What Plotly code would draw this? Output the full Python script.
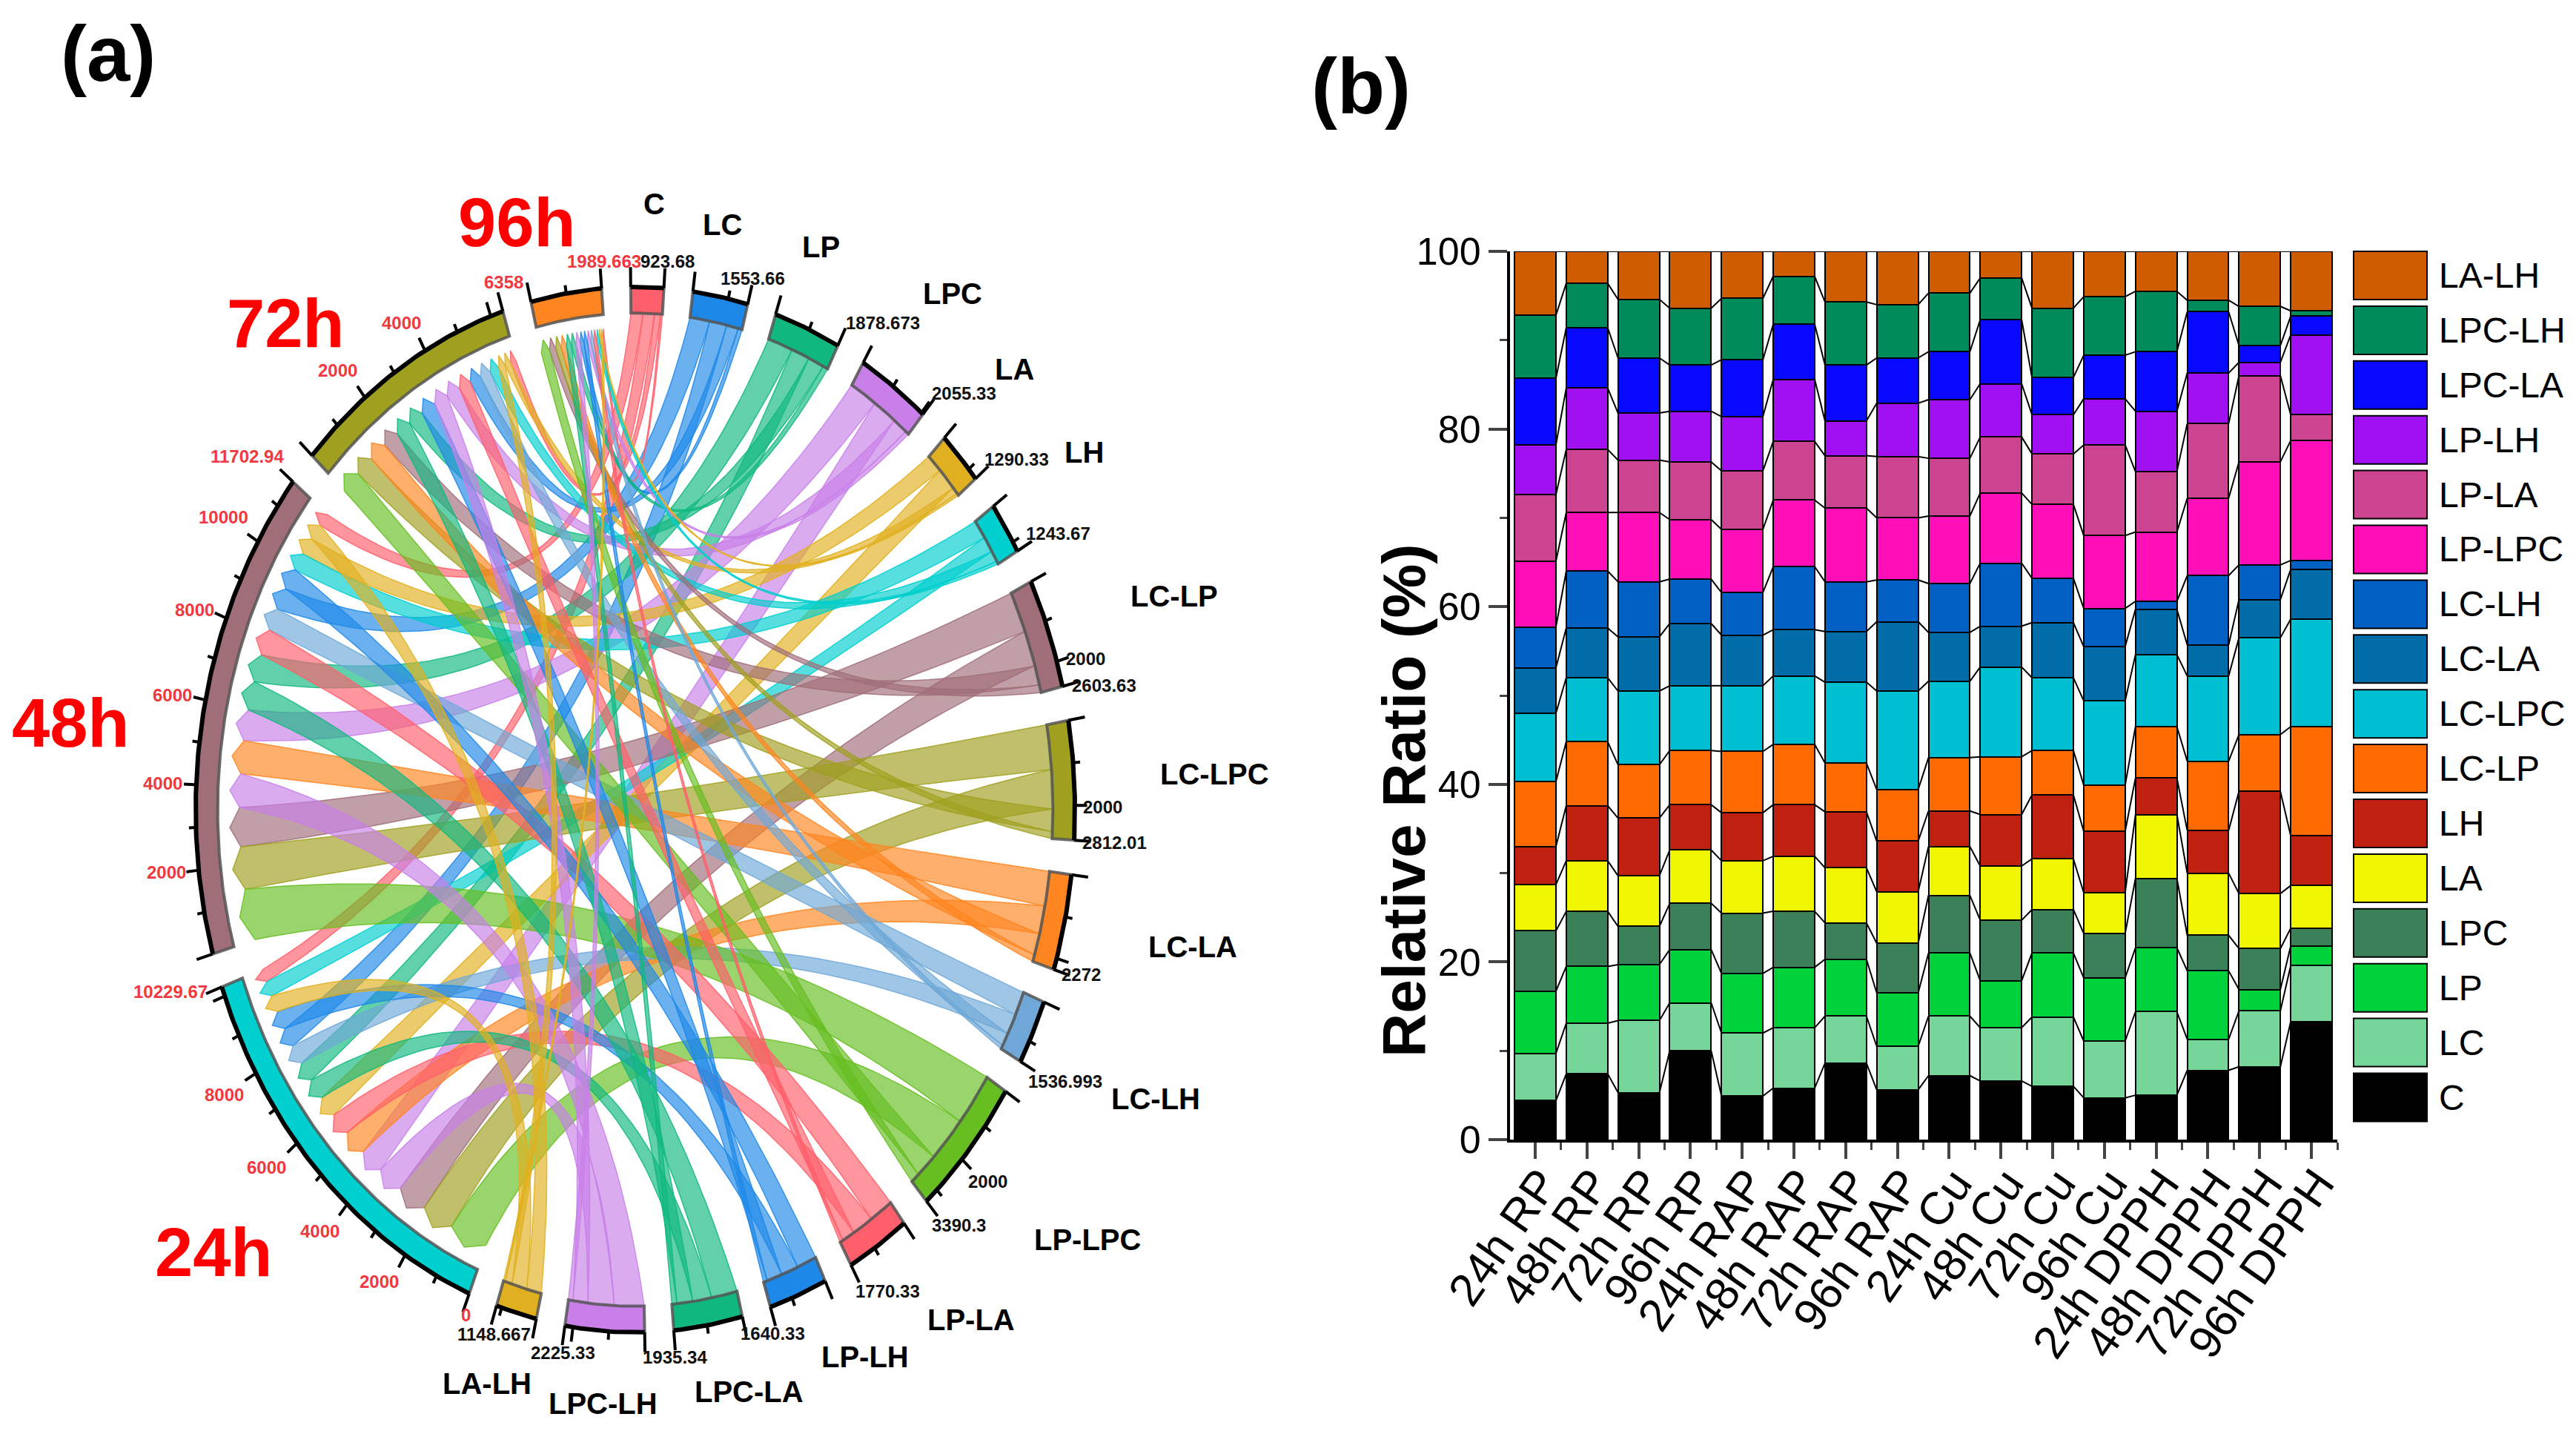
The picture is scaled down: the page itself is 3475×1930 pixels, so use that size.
import numpy as np
import plotly.graph_objects as go

W, H = 3475, 1930

# ---------- panel (b) data ----------
samples = ["24h RP", "48h RP", "72h RP", "96h RP", "24h RAP", "48h RAP", "72h RAP", "96h RAP",
           "24h Cu", "48h Cu", "72h Cu", "96h Cu", "24h DPPH", "48h DPPH", "72h DPPH", "96h DPPH"]
C = [4.4,7.4,5.3,10.0,4.9,5.8,8.6,5.6,7.2,6.6,6.0,4.7,5.0,7.8,8.2,13.3]
LC = [5.3,5.7,8.1,5.4,7.1,6.8,5.3,4.9,6.7,6.0,7.8,6.4,9.4,3.5,6.3,6.3]
LP = [7.0,6.4,6.3,6.0,6.7,6.8,6.4,6.0,7.1,5.3,7.2,7.1,7.2,7.7,2.4,2.2]
LPC = [6.8,6.2,4.3,5.2,6.8,6.3,4.1,5.6,6.5,6.8,4.9,5.0,7.8,4.0,4.6,2.0]
LA = [5.2,5.7,5.7,6.0,5.9,6.2,6.2,5.8,5.5,6.1,5.7,4.6,7.2,7.0,6.2,4.8]
LH = [4.3,6.2,6.5,5.1,5.4,5.8,6.3,5.7,4.0,5.8,7.2,6.9,4.1,4.8,11.5,5.6]
LC_LP = [7.3,7.2,6.0,6.1,6.9,6.8,5.5,5.8,6.0,6.5,5.0,5.2,5.8,7.8,6.4,12.3]
LC_LPC = [7.7,7.2,8.3,7.3,7.4,7.7,9.1,11.1,8.6,10.1,8.2,9.5,8.1,9.6,10.9,12.1]
LC_LA = [5.1,5.6,6.1,7.0,5.7,5.2,5.7,7.8,5.5,4.6,6.2,6.1,5.1,3.5,4.3,5.6]
LC_LH = [4.6,6.4,6.2,5.0,4.8,7.1,5.6,4.7,5.5,7.1,5.0,4.3,0.9,7.8,3.9,1.0]
LP_LPC = [7.4,6.6,7.8,6.7,7.1,7.5,8.3,7.0,7.6,7.9,8.3,8.2,7.8,8.7,11.6,13.5]
LP_LA = [7.5,7.1,5.9,6.5,6.6,6.6,5.9,6.9,6.5,6.3,5.7,10.2,6.8,8.4,9.7,2.9]
LP_LH = [5.6,6.9,5.3,5.7,6.1,7.0,3.9,6.0,6.6,6.0,4.4,5.2,6.8,5.7,1.5,9.0]
LPC_LA = [7.5,6.8,6.2,5.2,6.4,6.2,6.3,5.1,5.4,7.2,4.2,4.9,6.7,6.9,1.9,2.1]
LPC_LH = [7.1,5.0,6.6,6.4,6.9,5.4,7.1,6.0,6.6,4.7,7.8,6.6,6.8,1.3,4.4,0.6]
LA_LH = [7.2,3.6,5.4,6.4,5.3,2.8,5.7,6.0,4.7,3.0,6.4,5.1,4.5,5.5,6.2,6.7]

lipids = ["C", "LC", "LP", "LPC", "LA", "LH", "LC-LP", "LC-LPC", "LC-LA", "LC-LH",
          "LP-LPC", "LP-LA", "LP-LH", "LPC-LA", "LPC-LH", "LA-LH"]
bar_values = [C, LC, LP, LPC, LA, LH, LC_LP, LC_LPC, LC_LA, LC_LH, LP_LPC, LP_LA, LP_LH, LPC_LA, LPC_LH, LA_LH]
bar_colors = ["#000000", "#76D69A", "#00D23C", "#3A8058", "#F0F500", "#C0200F", "#FF6A00", "#00BFD2",
              "#006CA8", "#0060C4", "#FF0FB8", "#CC4490", "#A010F0", "#0808FF", "#008C5A", "#D05C00"]

# ---------- panel (a) data ----------
times = ["24h", "48h", "72h", "96h"]
flow_24h = [340, 510, 535, 715, 580, 400, 895, 970, 695, 520, 1170, 620, 500, 560, 775, 444.67]
flow_48h = [355, 585, 735, 810, 470, 480, 1025, 1110, 865, 595, 1340, 687.94, 575, 755, 875, 440]
flow_72h = [174.017, 343.66, 463.673, 425.33, 180.33, 283.67, 488.63, 560.01, 544, 326.993, 620.3, 372.39, 455.33, 470.34, 440.33, 208.997]
flow_96h = [54.663, 115, 145, 105, 60, 80, 195, 172, 168, 95, 260, 90, 110, 150, 135, 55]
lipid_end_labels = ["923.68", "1553.66", "1878.673", "2055.33", "1290.33", "1243.67", "2603.63", "2812.01",
                    "2272", "1536.993", "3390.3", "1770.33", "1640.33", "1935.34", "2225.33", "1148.667"]
time_end_labels = ["10229.67", "11702.94", "6358", "1989.663"]
chord_colors = ["#FF5F6B", "#1E88E8", "#10B880", "#C880E8", "#E0B020", "#00CFCF", "#A06E78", "#A0A020",
                "#FF8520", "#6FA8D8", "#66BE20", "#FF5F6B", "#1E88E8", "#10B880", "#C880E8", "#E0B020"]
time_colors = ["#00CFCF", "#A06E78", "#A0A020", "#FF8520"]


def px_x(x):
    return x / W


def px_y(y):
    return 1 - y / H


def rgba(hexc, a):
    h = hexc.lstrip("#")
    return "rgba(%d,%d,%d,%.2f)" % (int(h[:2], 16), int(h[2:4], 16), int(h[4:], 16), a)


fig = go.Figure()

# ---------- chord geometry (unit circle mapped through axes x2 / y2) ----------
flows = np.array([flow_24h, flow_48h, flow_72h, flow_96h]).T
lipid_tot = flows.sum(axis=1)
time_tot = flows.sum(axis=0)
GAP = 3.8
UNIT = (360 - 20 * GAP) / (lipid_tot.sum() + time_tot.sum())
START = -0.6


def pt(theta, r):
    t = np.radians(theta)
    return r * np.sin(t), r * np.cos(t)


def arc(a, b, r, n=None):
    n = n or max(2, int(abs(b - a) * 2) + 2)
    th = np.linspace(a, b, n)
    return pt(th, r)


sector_span = {}
ang = START
for i, n in enumerate(lipids):
    sector_span[n] = (ang, ang + lipid_tot[i] * UNIT)
    ang += lipid_tot[i] * UNIT + GAP
for i, n in enumerate(times):
    sector_span[n] = (ang, ang + time_tot[i] * UNIT)
    ang += time_tot[i] * UNIT + GAP

# positions of each link on the time sectors: largest first, clockwise
time_pos = {}
for j, tn in enumerate(times):
    a = sector_span[tn][0]
    for i in np.argsort(-flows[:, j]):
        w = flows[i, j] * UNIT
        time_pos[(i, j)] = (a, a + w)
        a += w
# positions on lipid sectors
lipid_order = [1, 0, 2, 3]
lipid_pos = {}
for i, ln in enumerate(lipids):
    a = sector_span[ln][0]
    for j in lipid_order:
        w = flows[i, j] * UNIT
        lipid_pos[(i, j)] = (a, a + w)
        a += w


def bez(a1, r1, a2, r2):
    p0 = np.array(pt(a1, r1))
    p2 = np.array(pt(a2, r2))
    d = (a2 - a1 + 180) % 360 - 180
    rc = 0.35 * (1 - abs(d) / 180)
    p1 = np.array(pt(a1 + d / 2, rc))
    t = np.linspace(0, 1, 50)[:, None]
    c = (1 - t) ** 2 * p0[None, :] + 2 * t * (1 - t) * p1[None, :] + t ** 2 * p2[None, :]
    return c[:, 0], c[:, 1]


R_L, R_T, R_TIP = 0.95, 0.90, 0.923
for j in range(4):
    for i in range(16):
        l1, l2 = lipid_pos[(i, j)]
        t1, t2 = time_pos[(i, j)]
        ax, ay = arc(l1, l2, R_L)
        b1x, b1y = bez(l2, R_L, t1, R_T)
        tipx, tipy = pt((t1 + t2) / 2, R_TIP)
        b2x, b2y = bez(t2, R_T, l1, R_L)
        xs = np.concatenate([ax, b1x, [tipx], b2x])
        ys = np.concatenate([ay, b1y, [tipy], b2y])
        fig.add_trace(go.Scatter(x=xs, y=ys, xaxis="x2", yaxis="y2", mode="lines", fill="toself",
                                 fillcolor=rgba(chord_colors[i], 0.66),
                                 line=dict(color=rgba(chord_colors[i], 0.85), width=1.5),
                                 hoverinfo="skip", showlegend=False))

# sector bands and axes
all_names = lipids + times
all_cols = chord_colors + time_colors
all_tot = list(lipid_tot) + list(time_tot)
for n, col, tot in zip(all_names, all_cols, all_tot):
    a, b = sector_span[n]
    ox, oy = arc(a, b, 1.0)
    ix, iy = arc(b, a, 0.95)
    fig.add_trace(go.Scatter(x=np.concatenate([ox, ix, ox[:1]]), y=np.concatenate([oy, iy, oy[:1]]),
                             xaxis="x2", yaxis="y2", mode="lines", fill="toself", fillcolor=col,
                             line=dict(color="rgba(85,85,85,0.85)", width=4),
                             hoverinfo="skip", showlegend=False))
    fig.add_trace(go.Scatter(x=ox, y=oy, xaxis="x2", yaxis="y2", mode="lines",
                             line=dict(color="black", width=6), hoverinfo="skip", showlegend=False))
    tx, ty = [], []
    for v in np.arange(0, tot, 1000):
        th = a + v * UNIT
        rr = 1.038 if v == 0 else (1.028 if int(v) % 2000 == 0 else 1.016)
        x0, y0 = pt(th, 1.0)
        x1, y1 = pt(th, rr)
        tx += [x0, x1, None]
        ty += [y0, y1, None]
    x0, y0 = pt(b, 1.0)
    x1, y1 = pt(b, 1.038)
    tx += [x0, x1, None]
    ty += [y0, y1, None]
    fig.add_trace(go.Scatter(x=tx, y=ty, xaxis="x2", yaxis="y2", mode="lines",
                             line=dict(color="black", width=4), hoverinfo="skip", showlegend=False))

# ---------- stacked bars with connecting lines ----------
xpos = np.arange(1, 17)
for name, vals, col in zip(lipids, bar_values, bar_colors):
    fig.add_trace(go.Bar(x=xpos, y=vals, width=0.8, name=name, marker=dict(color=col, line=dict(color="black", width=2)),
                         showlegend=False, xaxis="x", yaxis="y"))
cum = np.cumsum(np.array(bar_values), axis=0)
for row in cum:
    lx, ly = [], []
    for k in range(15):
        lx += [xpos[k] + 0.4, xpos[k + 1] - 0.4, None]
        ly += [row[k], row[k + 1], None]
    fig.add_trace(go.Scatter(x=lx, y=ly, mode="lines", line=dict(color="black", width=2),
                             hoverinfo="skip", showlegend=False, xaxis="x", yaxis="y"))

# ---------- text ----------
SANS = "Liberation Sans"
ann = []


def text(x, y, s, size, color="black", bold=False, family=SANS, angle=0, xanchor="center"):
    ann.append(dict(x=px_x(x), y=px_y(y), xref="paper", yref="paper", text=("<b>%s</b>" % s) if bold else s,
                    showarrow=False, textangle=angle, xanchor=xanchor, yanchor="middle",
                    font=dict(family=family, size=size, color=color)))


text(146, 73, "(a)", 105, bold=True)
text(1836, 116, "(b)", 105, bold=True)
text(1893, 1080, "Relative Ratio (%)", 82, bold=True, angle=-90)

for s, x, y in [("96h", 697, 300), ("72h", 385, 436), ("48h", 95, 975), ("24h", 288, 1689)]:
    text(x, y, s, 92, color="#FF0000", bold=True)

name_pos = [(882, 275), (975, 303), (1107, 333), (1285, 396), (1368, 498), (1462, 610), (1584, 804), (1638, 1044),
            (1609, 1277), (1559, 1482), (1467, 1672), (1310, 1780), (1167, 1830), (1010, 1877), (813, 1893), (657, 1866)]
for s, (x, y) in zip(lipids, name_pos):
    text(x, y, s, 40, bold=True)

LBL = 24
end_pos = [(900, 353), (1015, 376), (1191, 435), (1300, 530), (1371, 619), (1427, 719), (1489, 924), (1503, 1136),
           (1458, 1314), (1437, 1458), (1293, 1652), (1197, 1741), (1042, 1798), (910, 1830), (759, 1824), (666, 1799)]
for s, (x, y) in zip(lipid_end_labels, end_pos):
    text(x, y, s, LBL, color="#111111", bold=True)
text(1464, 888, "2000", LBL, color="#111111", bold=True)
text(1487, 1088, "2000", LBL, color="#111111", bold=True)
text(1332, 1593, "2000", LBL, color="#111111", bold=True)

RED = "#F0383F"
for s, x, y in [("0", 628, 1773), ("2000", 511, 1728), ("4000", 431, 1660), ("6000", 359, 1574), ("8000", 302, 1476),
                ("2000", 224, 1176), ("4000", 219, 1056), ("6000", 232, 937), ("8000", 262, 822), ("10000", 301, 697),
                ("2000", 456, 499), ("4000", 541, 435)]:
    text(x, y, s, LBL, color=RED, bold=True)
for s, (x, y) in zip(time_end_labels, [(230, 1337), (333, 615), (679, 380), (815, 353)]):
    text(x, y, s, LBL, color=RED, bold=True)

# legend for panel (b)
shapes = []
LEG_TOP, LEG_STEP, LEG_H = 339, 73.9, 65
for k, (s, col) in enumerate(zip(lipids[::-1], bar_colors[::-1])):
    y0 = LEG_TOP + k * LEG_STEP
    shapes.append(dict(type="rect", xref="paper", yref="paper", x0=px_x(3175), x1=px_x(3274), y0=px_y(y0), y1=px_y(y0 + LEG_H),
                       fillcolor=col, line=dict(color="black", width=2)))
    text(3288, y0 + LEG_H / 2, s, 48, xanchor="left")

fig.update_layout(
    width=W, height=H, margin=dict(l=0, r=0, t=0, b=0, autoexpand=False), paper_bgcolor="white", plot_bgcolor="rgba(0,0,0,0)",
    barmode="stack", bargap=0.2, showlegend=False, annotations=ann, shapes=shapes,
    xaxis=dict(domain=[px_x(2037), px_x(3153)], range=[0.513, 16.5], tickvals=list(xpos), ticktext=samples, automargin=False,
               tickangle=-55, tickfont=dict(family=SANS, size=62, color="black"), ticks="outside", ticklen=22, tickwidth=4,
               ticklabelstandoff=-28, ticklabelshift=8,
               showline=True, linewidth=4, linecolor="black", showgrid=False, zeroline=False, anchor="y",
               minor=dict(tickvals=[v + 0.5 for v in range(0, 17)], ticks="outside", ticklen=10, tickwidth=3, showgrid=False)),
    yaxis=dict(domain=[px_y(1537), px_y(339)], range=[0, 100], tickvals=[0, 20, 40, 60, 80, 100], automargin=False,
               tickfont=dict(family=SANS, size=52, color="black"), ticks="outside", ticklen=25, tickwidth=4,
               showline=True, linewidth=4, linecolor="black", showgrid=False, zeroline=False, anchor="x",
               minor=dict(tickvals=[10, 30, 50, 70, 90], ticks="outside", ticklen=10, tickwidth=3, showgrid=False)),
    xaxis2=dict(domain=[0, px_x(1737)], range=[(0 - 857) / 593, (1737 - 857) / 593], visible=False, anchor="y2", automargin=False),
    yaxis2=dict(domain=[0, 1], range=[(1092 - 1930) / 705, 1092 / 705], visible=False, anchor="x2", automargin=False),
)

fig.write_html("out.html", post_script="document.body.style.margin='0';", config={"displayModeBar": False})
